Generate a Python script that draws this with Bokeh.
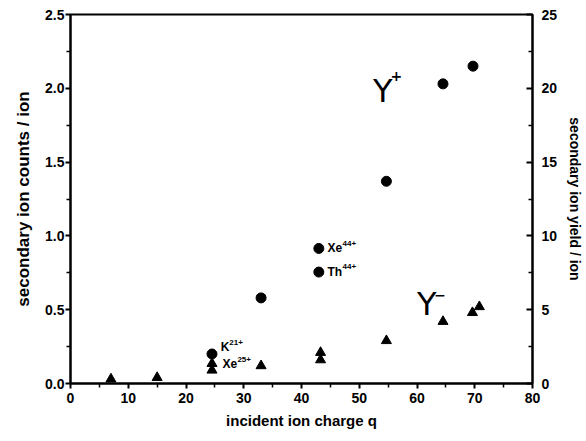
from bokeh.plotting import figure
from bokeh.models import Range1d, LinearAxis, FixedTicker
from bokeh.core.properties import value
from bokeh.embed import file_html
from bokeh.resources import INLINE

# Y+ (secondary ion counts / ion, left axis) - filled circles
q_plus = [24.5, 33.0, 43.0, 43.0, 54.7, 64.5, 69.7]
counts_plus = [0.20, 0.58, 0.915, 0.755, 1.37, 2.03, 2.15]

# Y- (secondary ion yield / ion, right axis) - filled triangles
q_minus = [7.0, 15.0, 24.5, 24.5, 33.0, 43.3, 43.3, 54.7, 64.5, 69.6, 70.8]
yield_minus = [0.3, 0.4, 1.35, 0.9, 1.2, 2.1, 1.6, 2.9, 4.2, 4.8, 5.2]

# point annotations: (base text, superscript, x, y)
ann_base = ["Xe", "Th", "K", "Xe"]
ann_sup = ["44+", "44+", "21+", "25+"]
ann_x = [44.5, 44.5, 26.0, 26.3]
ann_y = [0.915, 0.755, 0.245, 0.13]

x_ticks = [0, 10, 20, 30, 40, 50, 60, 70, 80]
left_ticks = [0.0, 0.5, 1.0, 1.5, 2.0, 2.5]
left_labels = ["0.0", "0.5", "1.0", "1.5", "2.0", "2.5"]
right_ticks = [0, 5, 10, 15, 20, 25]

W, H = 586, 441
p = figure(width=W, height=H, output_backend="svg", toolbar_location=None,
           x_range=Range1d(0, 80), y_range=Range1d(0, 2.5),
           min_border_left=70, min_border_right=54, min_border_top=14, min_border_bottom=58)
p.extra_y_ranges = {"right": Range1d(0, 25)}
p.xgrid.visible = False
p.ygrid.visible = False
p.outline_line_color = "black"
p.outline_line_width = 2
p.background_fill_color = "white"
p.border_fill_color = "white"

tick_font = "Liberation Sans"

def style_axis(ax, size_tick, size_label):
    ax.axis_line_width = 2
    ax.axis_line_color = "black"
    ax.major_tick_line_width = 2
    ax.minor_tick_line_width = 1.5
    ax.major_label_text_font = tick_font
    ax.major_label_text_font_style = "bold"
    ax.major_label_text_font_size = size_tick
    ax.major_label_text_color = "black"
    ax.axis_label_text_font = tick_font
    ax.axis_label_text_font_style = "bold"
    ax.axis_label_text_font_size = size_label
    ax.axis_label_text_color = "black"

xa = p.xaxis[0]
xa.ticker = FixedTicker(ticks=x_ticks, minor_ticks=[v + 5 for v in x_ticks[:-1]])
xa.axis_label = "incident ion charge q"
style_axis(xa, "14px", "15px")
xa.major_tick_out = 5
xa.major_tick_in = 0
xa.minor_tick_out = 4
xa.minor_tick_in = 0
xa.major_label_standoff = 4
xa.axis_label_standoff = 6

ya = p.yaxis[0]
ya.ticker = FixedTicker(ticks=left_ticks, minor_ticks=[v + 0.25 for v in left_ticks[:-1]])
ya.major_label_overrides = {v: s for v, s in zip(left_ticks, left_labels)}
ya.axis_label = "secondary ion counts / ion"
style_axis(ya, "14px", "17px")
ya.major_tick_out = 5
ya.major_tick_in = 0
ya.minor_tick_out = 4
ya.minor_tick_in = 0
ya.major_label_standoff = 1
ya.axis_label_standoff = 9

ra = LinearAxis(y_range_name="right", axis_label="secondary ion yield / ion")
ra.ticker = FixedTicker(ticks=right_ticks, minor_ticks=[v + 2.5 for v in right_ticks[:-1]])
style_axis(ra, "14px", "14px")
ra.major_tick_out = 0
ra.major_tick_in = 6
ra.minor_tick_out = 0
ra.minor_tick_in = 4
ra.major_label_standoff = 9
ra.axis_label_standoff = 7
p.add_layout(ra, "right")

p.scatter(q_plus, counts_plus, marker="circle", size=10, color="black")
p.scatter(q_minus, yield_minus, marker="triangle", size=10, color="black", y_range_name="right")

# annotations
p.text(x=ann_x, y=ann_y, text=ann_base, text_font=value(tick_font), text_font_style="bold",
       text_font_size="12px", text_baseline="middle", text_align="left", text_color="black")
sup_x = [x + 2.6 if b in ("Xe", "Th") else x + 1.5 for x, b in zip(ann_x, ann_base)]
sup_y = [y + 0.035 for y in ann_y]
p.text(x=sup_x, y=sup_y, text=ann_sup, text_font=value(tick_font), text_font_style="bold",
       text_font_size="8px", text_baseline="middle", text_align="left", text_color="black")

# Y+ / Y- labels
p.text(x=[52.4, 60.0], y=[2.11, 0.67], text=["Y", "Y"], text_font=value("DejaVu Sans"),
       text_font_size="32px", text_baseline="top", text_align="left", text_color="black")
p.text(x=[55.4, 63.0], y=[2.08, 0.60], text=["+", "\u2212"], text_font=value("DejaVu Sans"),
       text_font_size="14px", text_font_style="bold", text_baseline="middle", text_align="left",
       text_color="black")

open("out.html", "w").write(file_html(p, INLINE))
